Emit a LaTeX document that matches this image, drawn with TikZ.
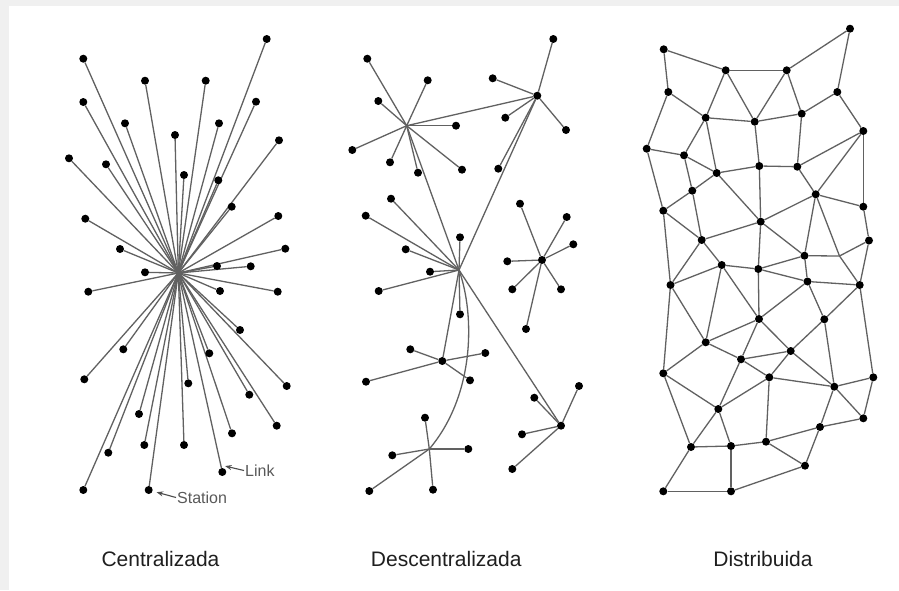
\documentclass[tikz,border=0pt]{standalone}
\usepackage{fontspec}
\setmainfont{Liberation Sans}
\usetikzlibrary{arrows.meta, % for the pointer tips
                calc,
                backgrounds}

\begin{document}
\begin{tikzpicture}[x=1pt, y=-1pt,
                    station/.style={circle, fill=black, inner sep=0, minimum size=8pt},
                    link/.style={black!62, line width=1.3pt},
                    pointer/.style={-{Stealth[length=6.5pt,width=5pt]}, black!70, line width=1.1pt},
                    tag/.style={text=black!65, font=\fontsize{16}{18}\selectfont, inner sep=1pt},
                    caption/.style={text=black!88, font=\fontsize{21}{24}\selectfont}
                    ]
    %frame
    \begin{scope}[on background layer]
        \fill[black!6] (0,0) rectangle (899,590);
        \fill[white] (9,6) rectangle (899,590);
    \end{scope}
    \useasboundingbox (0,0) rectangle (899,590);

    %centralized network
    \coordinate (hub) at (178.3,273);
    \foreach \x/\y [count=\i] in {266.7/39, 83.3/58.7, 145/80.7, 205.7/80.7, 83.3/102,
            256/101.7, 125/123.3, 219/123.3, 175/135, 279/140.3, 69/158.3, 106/164.3,
            184/175, 218.3/180.3, 231.7/206.7, 85.3/218.7, 278.3/216, 120/249,
            285.3/248.7, 217/266, 250.7/266.3, 145/272.3, 88.3/291.7, 220/291,
            277.7/291.7, 240/330, 123.3/349.3, 209.3/353.3, 84.3/379.3, 188.3/383.3,
            286.7/386, 249.3/394.7, 139/414, 276.7/425.7, 232/433.3, 144.3/445,
            184/445, 108.3/452.7, 222.3/472, 83.3/490, 148.7/490}{
        \node[station] (c\i) at (\x,\y) {};
        \scoped[on background layer] \draw[link] (hub) -- (c\i);
    }

    \node[tag, anchor=west] (stationtag) at (176,497.5) {Station};
    \draw[pointer, shorten >=4pt] (stationtag.west) -- (c41);
    \coordinate (linkpt) at ($(c39)!0.035!(hub)$);
    \node[tag, anchor=west] (linktag) at (244,470.5) {Link};
    \draw[pointer, shorten >=4.5pt] (linktag.west) -- (linkpt);

    %decentralized network
    \coordinate (hA) at (406.7,125.7);
    \node[station] (hB) at (537.3,95.7) {};
    \coordinate (hC) at (459,270);
    \node[station] (hD) at (542,260) {};
    \node[station] (hE) at (442.3,361) {};
    \coordinate (hF) at (429.3,449);
    \node[station] (hG) at (561,425.7) {};

    \foreach \x/\y [count=\i] in {367.3/58.7, 427.7/80.3, 378.3/101, 456/125.7,
            352.3/150, 390/162.3, 418/172.7, 462/169.7}{
        \node[station] (a\i) at (\x,\y) {};
        \scoped[on background layer] \draw[link] (hA) -- (a\i);
    }
    \foreach \x/\y [count=\i] in {553.3/39, 492.7/78.3, 505.3/117.7, 566/130, 498.3/168.7}{
        \node[station] (b\i) at (\x,\y) {};
        \scoped[on background layer] \draw[link] (hB) -- (b\i);
    }
    \foreach \x/\y [count=\i] in {391/198.7, 365.7/215.7, 405.7/249.3, 460/237.3,
            430/271.7, 378.7/291, 460/314.3}{
        \node[station] (k\i) at (\x,\y) {};
        \scoped[on background layer] \draw[link] (hC) -- (k\i);
    }
    \foreach \x/\y [count=\i] in {520/203.7, 566.7/217, 573.3/244.3, 507.3/261.3,
            512.3/289.3, 561/289.3, 526/329}{
        \node[station] (e\i) at (\x,\y) {};
        \scoped[on background layer] \draw[link] (hD) -- (e\i);
    }
    \foreach \x/\y [count=\i] in {410.3/349.3, 485.3/353, 366/381.7, 470/380.3}{
        \node[station] (f\i) at (\x,\y) {};
        \scoped[on background layer] \draw[link] (hE) -- (f\i);
    }
    \foreach \x/\y [count=\i] in {425/417.7, 392.3/455.3, 468.3/449, 369.3/491, 433/489.7}{
        \node[station] (g\i) at (\x,\y) {};
        \scoped[on background layer] \draw[link] (hF) -- (g\i);
    }
    \foreach \x/\y [count=\i] in {534.3/397.7, 579/386, 522/434.3, 512.3/469}{
        \node[station] (m\i) at (\x,\y) {};
        \scoped[on background layer] \draw[link] (hG) -- (m\i);
    }

    \begin{scope}[on background layer]
        \draw[link] (hA) -- (hB);
        \draw[link] (hA) -- (hC);
        \draw[link] (hB) -- (hC);
        \draw[link] (hC) -- (hE);
        \draw[link] (hC) -- (hG);
        \draw[link] (hC) .. controls (475,315) and (475,395) .. (hF);
    \end{scope}

    %distributed network
    \coordinate (dj) at (839.5,256);
    \foreach \x/\y [count=\i] in {663.7/49.3, 725.7/70.3, 786.7/70.3, 850/28.7, 668.3/92,
            837.3/92, 705.7/117.7, 754.7/121.7, 801.7/113.7, 863.3/131, 646.7/148.7,
            684/155.3, 716.7/173, 759.3/166, 797.3/166.7, 692.3/190.7, 815.7/194.3,
            663.3/210.7, 863.3/206.7, 760.7/221.7, 701.7/240, 869/240.5, 804.5/255.7,
            721.7/265, 758.3/269, 807.5/281.5, 670.5/285, 859.7/285, 759/319,
            824.3/319.3, 705.7/342.3, 790.7/351, 741/359.3, 663.3/373.3, 769.3/377.3,
            834.3/386.7, 873.3/377.3, 718.3/409, 863.3/418.3, 820/427, 691/447,
            731/446, 766/441.7, 805/465.7, 663.3/491.3, 731/491.3}{
        \node[station] (d\i) at (\x,\y) {};
    }
    \begin{scope}[on background layer]
        \foreach \a/\b in {1/2, 1/5, 2/3, 2/7, 2/8, 3/4, 3/8, 3/9, 4/6, 5/7, 5/11,
                6/9, 6/10, 7/8, 7/12, 7/13, 8/9, 8/14, 9/15, 10/15, 10/17, 10/19,
                11/12, 11/18, 12/13, 12/16, 13/14, 13/16, 13/20, 14/15, 14/20, 15/17,
                16/18, 16/21, 17/19, 17/20, 17/23, 18/21, 18/27, 19/22, 20/21, 20/25,
                20/23, 21/24, 21/27, 22/28, 23/25, 23/26, 24/27, 24/25, 24/31, 24/29,
                25/29, 25/26, 26/28, 26/29, 26/30, 27/31, 27/34, 28/30, 28/37,
                29/31, 29/33, 29/32, 30/32, 30/36, 31/33, 31/34, 32/33, 32/35, 32/36,
                33/35, 33/38, 34/38, 34/41, 35/36, 35/38, 35/43, 36/37, 36/39, 36/40,
                37/39, 38/41, 38/42, 39/40, 40/43, 40/44, 41/42, 41/45, 42/43, 42/46,
                43/44, 44/46, 45/46}
            \draw[link] (d\a) -- (d\b);
        \draw[link] (d17) -- (dj);
        \draw[link] (d22) -- (dj);
        \draw[link] (d23) -- (dj);
        \draw[link] (dj) -- (d28);
    \end{scope}

    %captions
    \node[caption] (capcen) at (160.5,559) {Centralizada};
    \node[caption] (capdes) at (446.2,559) {Descentralizada};
    \node[caption] (capdis) at (763,559) {Distribuida};
\end{tikzpicture}
\end{document}
